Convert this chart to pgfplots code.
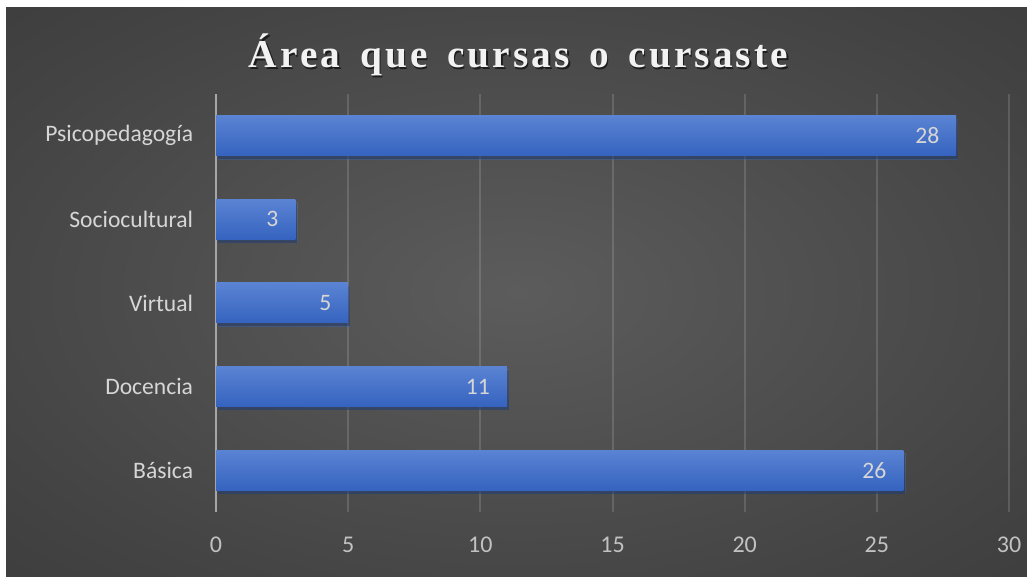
\documentclass[border=0pt]{standalone}
\usepackage{fontspec}
\setmainfont{Carlito}
\newfontfamily\titlefont[LetterSpace=8, WordSpace=1.5]{Liberation Serif}
\usepackage{pgfplots}
\pgfplotsset{compat=1.18}
\definecolor{bgin}{HTML}{5C5C5C}
\definecolor{bgmid}{HTML}{444444}
\definecolor{bgout}{HTML}{242424}
\definecolor{barTop}{HTML}{5A83D3}
\definecolor{barBot}{HTML}{3563BF}
\definecolor{labgray}{HTML}{D6D6D6}
\definecolor{tickgray}{HTML}{C2C2C2}
\definecolor{titlegray}{HTML}{F2F2F2}
\pgfdeclareradialshading{bgshade}{\pgfpoint{0bp}{0bp}}{color(0bp)=(bgin); color(28bp)=(bgmid); color(71bp)=(bgout); color(100bp)=(bgout)}
\begin{document}
\begin{tikzpicture}[x=0.75pt,y=0.75pt]
\fill[white] (0,0) rectangle (1027,577);
\shade[shading=bgshade] (6,0) rectangle (1027,569);
\node[text=black, opacity=0.6, font=\titlefont\bfseries\fontsize{29.5}{33}\selectfont, anchor=base] at (520,507.5) {Área que cursas o cursaste};
\node[text=titlegray, font=\titlefont\bfseries\fontsize{29.5}{33}\selectfont, anchor=base] at (518.5,509) {Área que cursas o cursaste};
\begin{axis}[
  at={(162pt,48.75pt)}, anchor=south west,
  scale only axis, width=594.75pt, height=313.5pt,
  xmin=0, xmax=30, ymin=-0.5, ymax=4.5,
  xbar, bar width=30pt, bar shift=0pt,
  ytick={0,...,4},
  yticklabels={Básica,Docencia,Virtual,Sociocultural,Psicopedagogía},
  xtick={0,5,...,30},
  separate axis lines,
  axis x line*=bottom, axis y line*=left,
  x axis line style={draw=none},
  y axis line style={draw=white!65!black, line width=1.5pt, -},
  major tick length=0pt,
  xmajorgrids,
  major grid style={white, opacity=0.14, line width=1.5pt},
  /pgf/number format/assume math mode=true,
  xticklabel style={font=\fontsize{18}{20}\selectfont, text=tickgray, anchor=center, inner sep=0pt, yshift=-24.75pt},
  yticklabel style={font=\fontsize{17.7}{20}\selectfont, text=labgray, anchor=east, inner sep=0pt, xshift=-17pt},
  nodes near coords,
  nodes near coords style={font=\fontsize{17.7}{20}\selectfont, text=labgray, anchor=east, inner sep=0pt, xshift=-12.5pt},
  barstyle/.style={draw=none, top color=barTop, bottom color=barBot,
    preaction={fill=black, fill opacity=0.35, transform canvas={xshift=1.5pt, yshift=-2.5pt}}},
]
\addplot[barstyle] coordinates {(26,0)};
\addplot[barstyle] coordinates {(11,1)};
\addplot[barstyle] coordinates {(5,2)};
\addplot[barstyle] coordinates {(3,3)};
\addplot[barstyle] coordinates {(28,4)};
\end{axis}
\end{tikzpicture}
\end{document}
